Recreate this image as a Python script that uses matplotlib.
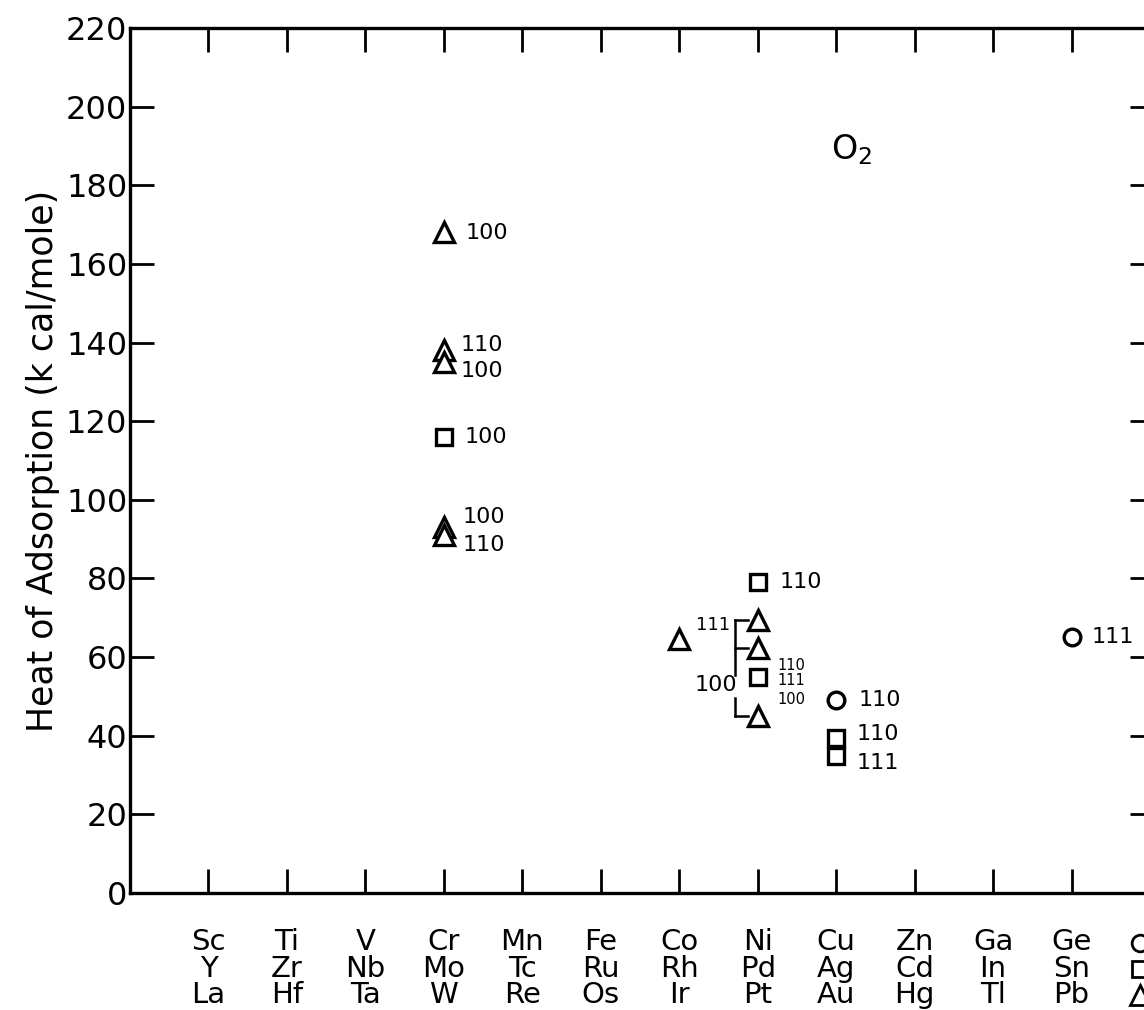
import matplotlib
matplotlib.use('Agg')
import matplotlib.pyplot as plt
import matplotlib.transforms as mtransforms

# 주기율표 열 (4, 5, 6 주기)
row4 = ['Sc', 'Ti', 'V', 'Cr', 'Mn', 'Fe', 'Co', 'Ni', 'Cu', 'Zn', 'Ga', 'Ge']
row5 = ['Y', 'Zr', 'Nb', 'Mo', 'Tc', 'Ru', 'Rh', 'Pd', 'Ag', 'Cd', 'In', 'Sn']
row6 = ['La', 'Hf', 'Ta', 'W', 'Re', 'Os', 'Ir', 'Pt', 'Au', 'Hg', 'Tl', 'Pb']
yticks = list(range(0, 221, 20))

# 원: 4주기 금속
circle_col = [8, 11]
circle_val = [49, 65]
circle_lbl = ['110', '111']

# 사각형: 5주기 금속
square_col = [3, 7, 7, 8, 8]
square_val = [116, 79, 55, 39.5, 34.8]
square_lbl = ['100', '110', '', '110', '111']

# 삼각형: 6주기 금속
tri_col = [3, 3, 3, 3, 3, 6, 7, 7, 7]
tri_val = [168, 138, 135, 93, 91, 64.5, 69.5, 62.4, 44.9]
tri_lbl = ['100', '110', '100', '100', '110', '111', '', '', '']

px = 0.72  # 픽셀 -> 포인트

fig = plt.figure(figsize=(11.44, 10.10), dpi=100)
ax = fig.add_axes([130 / 1144, 117 / 1010, 1024 / 1144, 865 / 1010])
plt.rcParams['font.family'] = ['DejaVu Sans']

mk = dict(mfc='white', mec='black', mew=2.4, ls='none', clip_on=False, zorder=3)
ax.plot(circle_col, circle_val, 'o', ms=12, **mk)
ax.plot(square_col, square_val, 's', ms=12, **mk)
ax.plot(tri_col, tri_val, '^', ms=15, **mk)

# 라벨 오프셋 (픽셀), 글자 크기
circle_off = [(22, 0), (20, 0)]
square_off = [(21, 0), (22, 0), (0, 0), (20, 4), (20, -7)]
tri_off = [(22, -1), (17, 5), (17, -9), (19, 10), (19, -10), (17, 14), (0, 0), (0, 0), (0, 0)]
tri_size = [16, 16, 16, 16, 16, 13, 16, 16, 16]

def label(cols, vals, lbls, offs, sizes=None):
    sizes = sizes or [16] * len(cols)
    for c, v, t, o, s in zip(cols, vals, lbls, offs, sizes):
        if t:
            ax.annotate(t, (c, v), xytext=(o[0] * px, o[1] * px), textcoords='offset points',
                        ha='left', va='center', fontsize=s)

label(circle_col, circle_val, circle_lbl, circle_off)
label(square_col, square_val, square_lbl, square_off)
label(tri_col, tri_val, tri_lbl, tri_off, tri_size)

# Pd 사각형 옆 작은 라벨
for t, dy in zip(['110', '111', '100'], [11, -4, -23]):
    ax.annotate(t, (square_col[2], square_val[2]), xytext=(20 * px, dy * px),
                textcoords='offset points', ha='left', va='center', fontsize=10.5)

# Pt 괄호 (100)
bx = tri_col[6] - 0.29
ax.plot([bx, bx], [tri_val[6], 55.5], color='black', lw=1.8)
ax.plot([bx, tri_col[6] - 0.13], [tri_val[6], tri_val[6]], color='black', lw=1.8)
ax.plot([bx, tri_col[7] - 0.13], [tri_val[7], tri_val[7]], color='black', lw=1.8)
ax.plot([bx, bx], [49.5, tri_val[8]], color='black', lw=1.8)
ax.plot([bx, tri_col[8] - 0.13], [tri_val[8], tri_val[8]], color='black', lw=1.8)
ax.text(bx + 0.03, 53, '100', ha='right', va='center', fontsize=16)

ax.text(8.2, 189, 'O$_2$', fontsize=24, ha='center', va='center')

ax.set_xlim(-1, 12.05)
ax.set_ylim(0, 220)
ax.set_yticks(yticks)
ax.set_yticklabels([str(v) for v in yticks], fontsize=23)
ax.set_xticks(range(len(row4)))
ax.set_xticklabels([])
ax.tick_params(axis='both', direction='in', length=17, width=2, top=True, right=True, pad=2)
for s in ax.spines.values():
    s.set_linewidth(2.4)

ax.set_ylabel('Heat of Adsorption (k cal/mole)', fontsize=25, labelpad=4)

# 원소 기호: 열마다 한 덩어리
trans = mtransforms.blended_transform_factory(ax.transData, ax.transAxes)
for i, (a, b, c) in enumerate(zip(row4, row5, row6)):
    ax.text(i, -0.041, a + '\n' + b + '\n' + c, transform=trans, ha='center', va='top',
            fontsize=21, linespacing=0.92)

# 범례 기호 (원/사각형/삼각형)
rows_y = [-0.058, -0.088, -0.118]
for m, ry, ms in zip(['o', 's', '^'], rows_y, [12, 12, 15]):
    ax.plot([11.87], [ry], m, ms=ms, mfc='white', mec='black', mew=2, transform=trans, clip_on=False)

plt.savefig('out.png', format='png')
plt.close()
